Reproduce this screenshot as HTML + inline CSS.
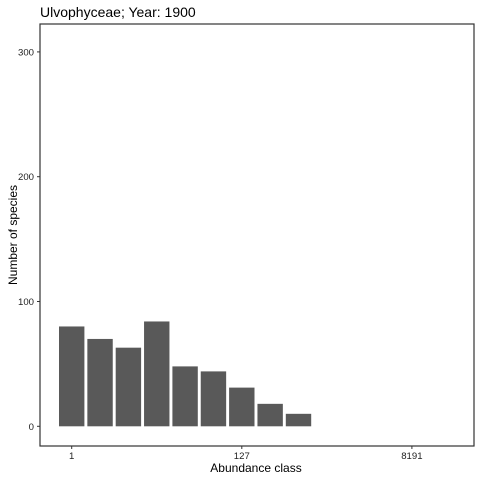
<!DOCTYPE html>
<html><head><meta charset="utf-8"><style>
body{margin:0;background:#fff;}
svg{display:block;font-family:"Liberation Sans",Arial,sans-serif;}
</style></head><body>
<svg id="c" width="480" height="480">
<text x="40" y="17" font-size="14" fill="#000">Ulvophyceae; Year: 1900</text>
<rect x="40" y="24" width="434" height="422" fill="none" stroke="#333" stroke-width="1.2"/>
<text transform="translate(17,235) rotate(-90)" text-anchor="middle" font-size="12">Number of species</text>
<text x="256" y="472" text-anchor="middle" font-size="12">Abundance class</text>
<g id="bars"></g><g id="axes"></g>
</svg>
<script>
const classes=[1,2,3,4,5,6,7,8,9];
const counts=[80,70,63,84,48,44,31,18,10];
const yTicks=[0,100,200,300];
const xTickPos=[1,7,13];
const xTickLabels=["1","127","8191"];
const ns="http://www.w3.org/2000/svg";
const y=v=>426.3-v*1.248;
const x=i=>71.7+(i-1)*28.35;
const bars=document.getElementById('bars'),axes=document.getElementById('axes');
function mk(t,a,p){const e=document.createElementNS(ns,t);for(const k in a)e.setAttribute(k,a[k]);p.appendChild(e);return e;}
classes.forEach((c,i)=>{
 const r=mk('rect',{x:x(c)-12.7,y:y(counts[i]),width:25.4,height:y(0)-y(counts[i]),fill:'#595959'},bars);
 
 
});
yTicks.forEach(v=>{
 const l=mk('line',{x1:37,x2:40,y1:y(v),y2:y(v),stroke:'#333'},axes);
 
 
 const t=mk('text',{x:34,y:y(v)+3.5,'text-anchor':'end','font-size':'9.6',fill:'#222'},axes);
 t.textContent=v;
 
 
});
xTickPos.forEach((p,i)=>{
 const l=mk('line',{x1:x(p),x2:x(p),y1:446,y2:449,stroke:'#333'},axes);
 
 
 const t=mk('text',{x:x(p),y:459,'text-anchor':'middle','font-size':'9.6',fill:'#222'},axes);
 t.textContent=xTickLabels[i];
 
 
});
</script>
</body></html>
